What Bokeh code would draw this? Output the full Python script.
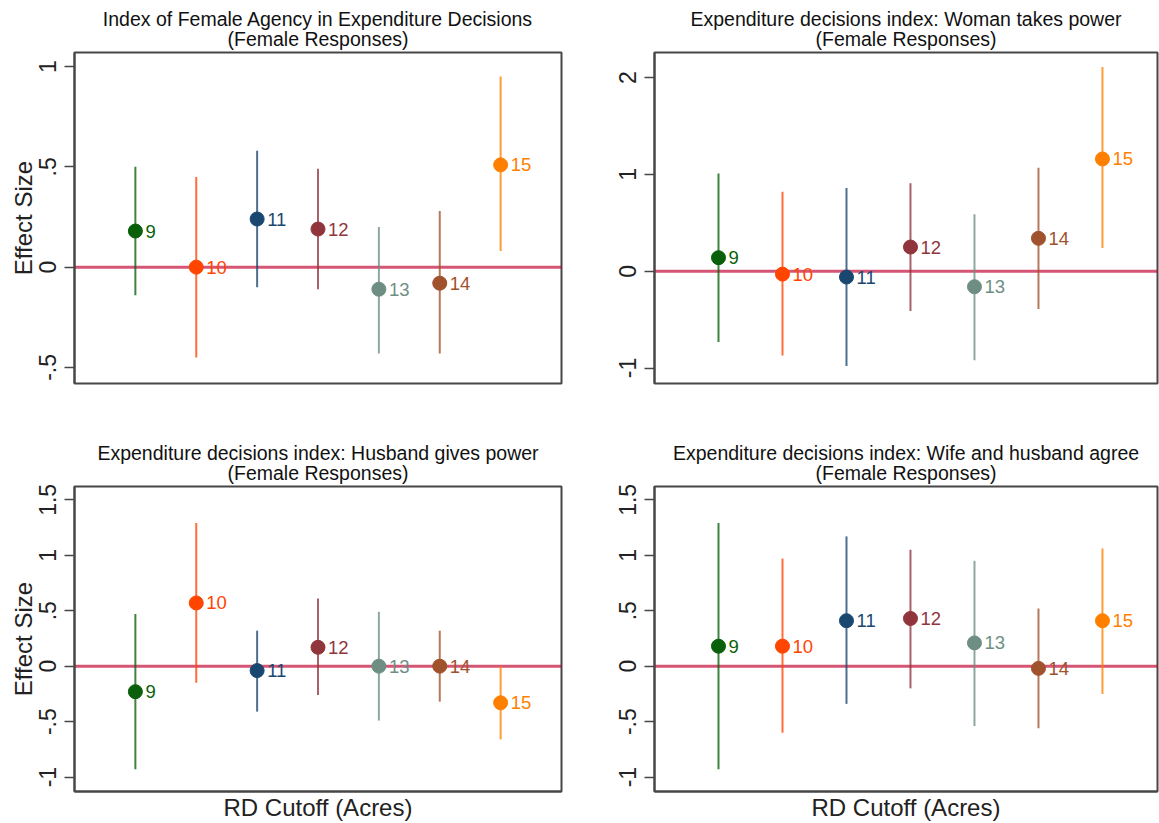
from bokeh.plotting import figure
from bokeh.layouts import column, row
from bokeh.models import ColumnDataSource, Span, FixedTicker, Range1d, Title
from bokeh.embed import file_html
from bokeh.resources import INLINE
from bokeh.core.properties import value

FONT = "Liberation Sans"

# ---------------- data ----------------
cutoffs = [9, 10, 11, 12, 13, 14, 15]
cutoff_labels = ["9", "10", "11", "12", "13", "14", "15"]
colors = ["#0a5f0a", "#ff4500", "#1a476f", "#90353b", "#6e8e84", "#a0522d", "#ff8000"]

title_agency = ["Index of Female Agency in Expenditure Decisions", "(Female Responses)"]
title_takes = ["Expenditure decisions index: Woman takes power", "(Female Responses)"]
title_gives = ["Expenditure decisions index: Husband gives power", "(Female Responses)"]
title_agree = ["Expenditure decisions index: Wife and husband agree", "(Female Responses)"]

agency_est = [0.18, 0.00, 0.24, 0.19, -0.11, -0.08, 0.51]
agency_lo = [-0.14, -0.45, -0.10, -0.11, -0.43, -0.43, 0.08]
agency_hi = [0.50, 0.45, 0.58, 0.49, 0.20, 0.28, 0.95]

takes_est = [0.14, -0.03, -0.06, 0.25, -0.16, 0.34, 1.16]
takes_lo = [-0.73, -0.87, -0.98, -0.41, -0.92, -0.39, 0.24]
takes_hi = [1.01, 0.82, 0.86, 0.91, 0.59, 1.07, 2.11]

gives_est = [-0.23, 0.57, -0.04, 0.17, 0.00, 0.00, -0.33]
gives_lo = [-0.93, -0.15, -0.41, -0.26, -0.49, -0.32, -0.66]
gives_hi = [0.47, 1.29, 0.32, 0.61, 0.49, 0.32, 0.00]

agree_est = [0.18, 0.18, 0.41, 0.43, 0.21, -0.02, 0.41]
agree_lo = [-0.93, -0.60, -0.34, -0.20, -0.54, -0.56, -0.25]
agree_hi = [1.29, 0.97, 1.17, 1.05, 0.95, 0.52, 1.06]

ticks_agency = [-0.5, 0, 0.5, 1]
tick_labels_agency = ["-.5", "0", ".5", "1"]
ticks_takes = [-1, 0, 1, 2]
tick_labels_takes = ["-1", "0", "1", "2"]
ticks_half = [-1, -0.5, 0, 0.5, 1, 1.5]
tick_labels_half = ["-1", "-.5", "0", ".5", "1", "1.5"]

yrange_agency = (-0.58, 1.07)
yrange_takes = (-1.16, 2.26)
yrange_bottom = (-1.13, 1.62)

y_label = "Effect Size"
x_label = "RD Cutoff (Acres)"


def panel(title, est, lo, hi, ticks, tick_labels, yr, x_end, width, height,
          borders, left_label=False, bottom_label=False):
    bl, br, bt, bb = borders
    p = figure(width=width, height=height, x_range=Range1d(8, x_end),
               y_range=Range1d(*yr), output_backend="svg", toolbar_location=None,
               min_border_left=bl, min_border_right=br, min_border_top=bt,
               min_border_bottom=bb)
    p.background_fill_color = "white"
    p.border_fill_color = "white"
    p.outline_line_color = "#474747"
    p.outline_line_width = 2
    p.outline_line_alpha = 1
    p.grid.visible = False

    # two-line title (main line outermost, subtitle next to the frame)
    p.title.text = title[0]
    p.title.align = "center"
    p.title.vertical_align = "bottom"
    p.title.text_font = FONT
    p.title.text_font_size = "19.5px"
    p.title.text_font_style = "normal"
    p.title.text_color = "#111111"
    p.title.standoff = -14
    p.add_layout(Title(text=title[1], align="center", text_font=FONT,
                       text_font_size="19.5px", text_font_style="normal",
                       text_color="#111111", standoff=6), "above")

    # y axis
    ya = p.yaxis[0]
    ya.ticker = FixedTicker(ticks=ticks)
    ya.major_label_overrides = {t: l for t, l in zip(ticks, tick_labels)}
    ya.major_label_orientation = "vertical"
    ya.major_label_text_font = FONT
    ya.major_label_text_font_size = "23px"
    ya.major_label_text_color = "#222222"
    ya.major_label_standoff = 8
    ya.major_tick_out = 10
    ya.major_tick_in = 0
    ya.major_tick_line_color = "#474747"
    ya.major_tick_line_width = 1.5
    ya.minor_tick_line_color = None
    ya.axis_line_color = "#474747"
    ya.axis_line_width = 2
    if left_label:
        ya.axis_label = y_label
        ya.axis_label_text_font = FONT
        ya.axis_label_text_font_size = "24px"
        ya.axis_label_text_font_style = "normal"
        ya.axis_label_text_color = "#222222"
        ya.axis_label_standoff = 0

    # x axis
    xa = p.xaxis[0]
    xa.ticker = FixedTicker(ticks=[])
    xa.major_tick_line_color = None
    xa.minor_tick_line_color = None
    xa.major_label_standoff = 0
    xa.major_tick_out = 0
    xa.axis_line_color = "#474747"
    xa.axis_line_width = 2
    if bottom_label:
        xa.axis_label = x_label
        xa.axis_label_text_font = FONT
        xa.axis_label_text_font_size = "24px"
        xa.axis_label_text_font_style = "normal"
        xa.axis_label_text_color = "#222222"
        xa.axis_label_standoff = 2
    else:
        xa.visible = False

    p.add_layout(Span(location=0, dimension="width", line_color="#c10534",
                      line_alpha=0.68, line_width=3, level="underlay"))

    src = ColumnDataSource(dict(x=cutoffs, est=est, lo=lo, hi=hi,
                                lab=cutoff_labels, color=colors))
    p.segment(x0="x", y0="lo", x1="x", y1="hi", source=src, line_color="color",
              line_width=2, line_alpha=0.78)
    p.scatter(x="x", y="est", source=src, size=14, fill_color="color",
              line_color="color")
    p.text(x="x", y="est", text="lab", source=src, x_offset=10,
           text_baseline="middle", text_align="left", text_color="color",
           text_font=value(FONT), text_font_size="18.5px")
    return p


p1 = panel(title_agency, agency_est, agency_lo, agency_hi, ticks_agency,
           tick_labels_agency, yrange_agency, 16, 580, 420, (74, 19, 52, 37),
           left_label=True)
p2 = panel(title_takes, takes_est, takes_lo, takes_hi, ticks_takes,
           tick_labels_takes, yrange_takes, 15.86, 579, 420, (74, 2, 52, 37))
p3 = panel(title_gives, gives_est, gives_lo, gives_hi, ticks_half,
           tick_labels_half, yrange_bottom, 16, 580, 403, (74, 19, 66, 31),
           left_label=True, bottom_label=True)
p4 = panel(title_agree, agree_est, agree_lo, agree_hi, ticks_half,
           tick_labels_half, yrange_bottom, 15.86, 579, 403, (74, 2, 66, 31),
           bottom_label=True)

layout = column(row(p1, p2), row(p3, p4))
open("out.html", "w").write(file_html(layout, INLINE))
